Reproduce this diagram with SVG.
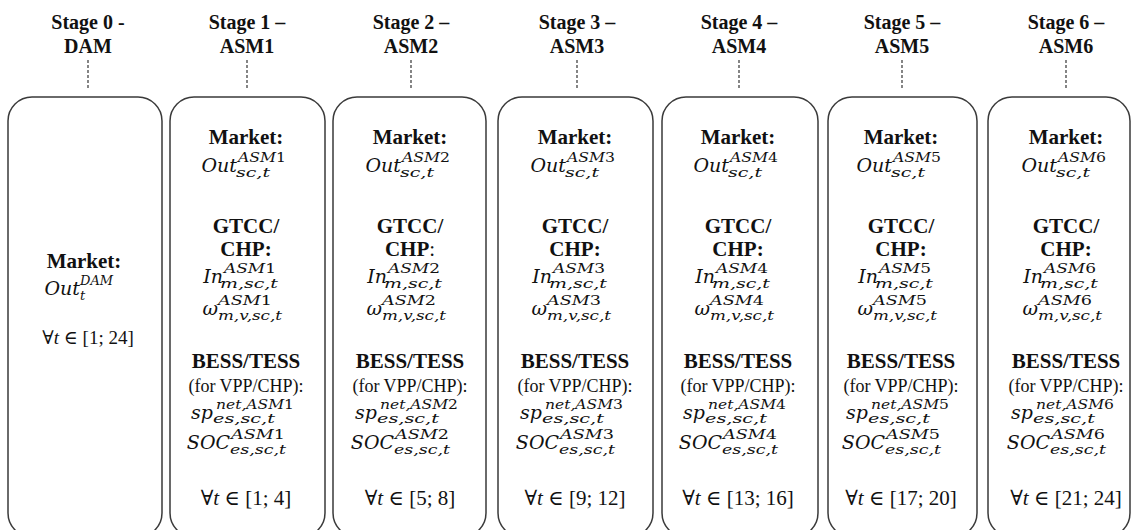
<svg xmlns="http://www.w3.org/2000/svg" width="1132" height="530" viewBox="0 0 1132 530">
<defs>
<style>
.box{fill:#fff;stroke:#3a3a3a;stroke-width:1.5}
.dash{stroke:#444;stroke-width:1.3;stroke-dasharray:3 2;fill:none}
.hdr{font-family:"Liberation Serif","DejaVu Serif",serif;font-weight:bold;font-size:20px;text-anchor:middle;fill:#111}
.sec{font-family:"Liberation Serif","DejaVu Serif",serif;font-weight:bold;font-size:21px;text-anchor:middle;fill:#111}
.note{font-family:"Liberation Serif","DejaVu Serif",serif;font-size:18px;text-anchor:middle;fill:#111}
.fa{font-family:"Liberation Serif","DejaVu Serif",serif;font-size:21px;text-anchor:middle;fill:#111}
.it{font-style:italic}
.rg{font-weight:normal}
.mb{font-family:"DejaVu Serif",serif;font-style:italic;font-size:19px;text-anchor:end;fill:#111}
.ms{font-family:"DejaVu Serif",serif;font-style:italic;font-size:13px;text-anchor:start;fill:#111}
.up{font-style:normal}
</style>
</defs>

<g id="connectors">
<line class="dash" x1="88" y1="60" x2="88" y2="90"/>
<line class="dash" x1="247" y1="60" x2="247" y2="90"/>
<line class="dash" x1="411" y1="60" x2="411" y2="90"/>
<line class="dash" x1="577" y1="60" x2="577" y2="90"/>
<line class="dash" x1="739" y1="60" x2="739" y2="90"/>
<line class="dash" x1="902" y1="60" x2="902" y2="90"/>
<line class="dash" x1="1066" y1="60" x2="1066" y2="90"/>
</g>

<g id="headers">
<text class="hdr" x="88" y="29">Stage 0 -</text><text class="hdr" x="88" y="53">DAM</text>
<text class="hdr" x="247" y="29">Stage 1 –</text><text class="hdr" x="247" y="53">ASM1</text>
<text class="hdr" x="411" y="29">Stage 2 –</text><text class="hdr" x="411" y="53">ASM2</text>
<text class="hdr" x="577" y="29">Stage 3 –</text><text class="hdr" x="577" y="53">ASM3</text>
<text class="hdr" x="739" y="29">Stage 4 –</text><text class="hdr" x="739" y="53">ASM4</text>
<text class="hdr" x="902" y="29">Stage 5 –</text><text class="hdr" x="902" y="53">ASM5</text>
<text class="hdr" x="1066" y="29">Stage 6 –</text><text class="hdr" x="1066" y="53">ASM6</text>
</g>

<g id="stage0">
<rect class="box" x="8" y="97" width="154" height="440" rx="24"/>
<text class="sec" x="84" y="268">Market:</text>
<text class="mb" x="80" y="295">Out</text>
<text class="ms" x="80" y="285" textLength="33" lengthAdjust="spacingAndGlyphs">DAM</text>
<text class="ms" x="80" y="300">t</text>
<text class="fa" x="88" y="344" style="font-size:19px">∀<tspan class="it">t</tspan> ∈ [1; 24]</text>
</g>

<g id="stage1" transform="translate(246,0)">
<rect class="box" x="-76" y="97" width="155" height="440" rx="24"/>
<text class="sec" x="0" y="144">Market:</text>
<text class="mb" x="-9" y="172">Out</text>
<text class="ms" x="-8" y="162" textLength="48" lengthAdjust="spacingAndGlyphs">ASM<tspan class="up">1</tspan></text>
<text class="ms" x="-10" y="177" textLength="34" lengthAdjust="spacingAndGlyphs">sc,t</text>
<text class="sec" x="0" y="233">GTCC/</text>
<text class="sec" x="0" y="256">CHP:</text>
<text class="mb" x="-23" y="283">In</text>
<text class="ms" x="-22" y="273" textLength="52" lengthAdjust="spacingAndGlyphs">ASM<tspan class="up">1</tspan></text>
<text class="ms" x="-26" y="288" textLength="58" lengthAdjust="spacingAndGlyphs">m,sc,t</text>
<text class="mb" x="-28" y="315">ω</text>
<text class="ms" x="-28" y="305" textLength="54" lengthAdjust="spacingAndGlyphs">ASM<tspan class="up">1</tspan></text>
<text class="ms" x="-28" y="320" textLength="64" lengthAdjust="spacingAndGlyphs">m,v,sc,t</text>
<text class="sec" x="0" y="368">BESS/TESS</text>
<text class="note" x="0" y="392">(for VPP/CHP):</text>
<text class="mb" x="-33" y="419">sp</text>
<text class="ms" x="-30" y="409" textLength="78" lengthAdjust="spacingAndGlyphs">net,ASM<tspan class="up">1</tspan></text>
<text class="ms" x="-33" y="423" textLength="62" lengthAdjust="spacingAndGlyphs">es,sc,t</text>
<text class="mb" x="-16" y="449">SOC</text>
<text class="ms" x="-15" y="439" textLength="54" lengthAdjust="spacingAndGlyphs">ASM<tspan class="up">1</tspan></text>
<text class="ms" x="-16" y="454" textLength="56" lengthAdjust="spacingAndGlyphs">es,sc,t</text>
<text class="fa" x="0" y="505">∀<tspan class="it">t</tspan> ∈ [1; 4]</text>
</g>

<g id="stage2" transform="translate(410,0)">
<rect class="box" x="-77" y="97" width="153" height="440" rx="24"/>
<text class="sec" x="0" y="144">Market:</text>
<text class="mb" x="-9" y="172">Out</text>
<text class="ms" x="-8" y="162" textLength="48" lengthAdjust="spacingAndGlyphs">ASM<tspan class="up">2</tspan></text>
<text class="ms" x="-10" y="177" textLength="34" lengthAdjust="spacingAndGlyphs">sc,t</text>
<text class="sec" x="0" y="233">GTCC/</text>
<text class="sec" x="0" y="256">CHP<tspan class="rg">:</tspan></text>
<text class="mb" x="-23" y="283">In</text>
<text class="ms" x="-22" y="273" textLength="52" lengthAdjust="spacingAndGlyphs">ASM<tspan class="up">2</tspan></text>
<text class="ms" x="-26" y="288" textLength="58" lengthAdjust="spacingAndGlyphs">m,sc,t</text>
<text class="mb" x="-28" y="315">ω</text>
<text class="ms" x="-28" y="305" textLength="54" lengthAdjust="spacingAndGlyphs">ASM<tspan class="up">2</tspan></text>
<text class="ms" x="-28" y="320" textLength="64" lengthAdjust="spacingAndGlyphs">m,v,sc,t</text>
<text class="sec" x="0" y="368">BESS/TESS</text>
<text class="note" x="0" y="392">(for VPP/CHP):</text>
<text class="mb" x="-33" y="419">sp</text>
<text class="ms" x="-30" y="409" textLength="78" lengthAdjust="spacingAndGlyphs">net,ASM<tspan class="up">2</tspan></text>
<text class="ms" x="-33" y="423" textLength="62" lengthAdjust="spacingAndGlyphs">es,sc,t</text>
<text class="mb" x="-16" y="449">SOC</text>
<text class="ms" x="-15" y="439" textLength="54" lengthAdjust="spacingAndGlyphs">ASM<tspan class="up">2</tspan></text>
<text class="ms" x="-16" y="454" textLength="56" lengthAdjust="spacingAndGlyphs">es,sc,t</text>
<text class="fa" x="0" y="505">∀<tspan class="it">t</tspan> ∈ [5; 8]</text>
</g>

<g id="stage3" transform="translate(575,0)">
<rect class="box" x="-77" y="97" width="155" height="440" rx="24"/>
<text class="sec" x="0" y="144">Market:</text>
<text class="mb" x="-9" y="172">Out</text>
<text class="ms" x="-8" y="162" textLength="48" lengthAdjust="spacingAndGlyphs">ASM<tspan class="up">3</tspan></text>
<text class="ms" x="-10" y="177" textLength="34" lengthAdjust="spacingAndGlyphs">sc,t</text>
<text class="sec" x="0" y="233">GTCC/</text>
<text class="sec" x="0" y="256">CHP:</text>
<text class="mb" x="-23" y="283">In</text>
<text class="ms" x="-22" y="273" textLength="52" lengthAdjust="spacingAndGlyphs">ASM<tspan class="up">3</tspan></text>
<text class="ms" x="-26" y="288" textLength="58" lengthAdjust="spacingAndGlyphs">m,sc,t</text>
<text class="mb" x="-28" y="315">ω</text>
<text class="ms" x="-28" y="305" textLength="54" lengthAdjust="spacingAndGlyphs">ASM<tspan class="up">3</tspan></text>
<text class="ms" x="-28" y="320" textLength="64" lengthAdjust="spacingAndGlyphs">m,v,sc,t</text>
<text class="sec" x="0" y="368">BESS/TESS</text>
<text class="note" x="0" y="392">(for VPP/CHP):</text>
<text class="mb" x="-33" y="419">sp</text>
<text class="ms" x="-30" y="409" textLength="78" lengthAdjust="spacingAndGlyphs">net,ASM<tspan class="up">3</tspan></text>
<text class="ms" x="-33" y="423" textLength="62" lengthAdjust="spacingAndGlyphs">es,sc,t</text>
<text class="mb" x="-16" y="449">SOC</text>
<text class="ms" x="-15" y="439" textLength="54" lengthAdjust="spacingAndGlyphs">ASM<tspan class="up">3</tspan></text>
<text class="ms" x="-16" y="454" textLength="56" lengthAdjust="spacingAndGlyphs">es,sc,t</text>
<text class="fa" x="0" y="505">∀<tspan class="it">t</tspan> ∈ [9; 12]</text>
</g>

<g id="stage4" transform="translate(738,0)">
<rect class="box" x="-76" y="97" width="156" height="440" rx="24"/>
<text class="sec" x="0" y="144">Market:</text>
<text class="mb" x="-9" y="172">Out</text>
<text class="ms" x="-8" y="162" textLength="48" lengthAdjust="spacingAndGlyphs">ASM<tspan class="up">4</tspan></text>
<text class="ms" x="-10" y="177" textLength="34" lengthAdjust="spacingAndGlyphs">sc,t</text>
<text class="sec" x="0" y="233">GTCC/</text>
<text class="sec" x="0" y="256">CHP:</text>
<text class="mb" x="-23" y="283">In</text>
<text class="ms" x="-22" y="273" textLength="52" lengthAdjust="spacingAndGlyphs">ASM<tspan class="up">4</tspan></text>
<text class="ms" x="-26" y="288" textLength="58" lengthAdjust="spacingAndGlyphs">m,sc,t</text>
<text class="mb" x="-28" y="315">ω</text>
<text class="ms" x="-28" y="305" textLength="54" lengthAdjust="spacingAndGlyphs">ASM<tspan class="up">4</tspan></text>
<text class="ms" x="-28" y="320" textLength="64" lengthAdjust="spacingAndGlyphs">m,v,sc,t</text>
<text class="sec" x="0" y="368">BESS/TESS</text>
<text class="note" x="0" y="392">(for VPP/CHP):</text>
<text class="mb" x="-33" y="419">sp</text>
<text class="ms" x="-30" y="409" textLength="78" lengthAdjust="spacingAndGlyphs">net,ASM<tspan class="up">4</tspan></text>
<text class="ms" x="-33" y="423" textLength="62" lengthAdjust="spacingAndGlyphs">es,sc,t</text>
<text class="mb" x="-16" y="449">SOC</text>
<text class="ms" x="-15" y="439" textLength="54" lengthAdjust="spacingAndGlyphs">ASM<tspan class="up">4</tspan></text>
<text class="ms" x="-16" y="454" textLength="56" lengthAdjust="spacingAndGlyphs">es,sc,t</text>
<text class="fa" x="0" y="505">∀<tspan class="it">t</tspan> ∈ [13; 16]</text>
</g>

<g id="stage5" transform="translate(901,0)">
<rect class="box" x="-73" y="97" width="149" height="440" rx="24"/>
<text class="sec" x="0" y="144">Market:</text>
<text class="mb" x="-9" y="172">Out</text>
<text class="ms" x="-8" y="162" textLength="48" lengthAdjust="spacingAndGlyphs">ASM<tspan class="up">5</tspan></text>
<text class="ms" x="-10" y="177" textLength="34" lengthAdjust="spacingAndGlyphs">sc,t</text>
<text class="sec" x="0" y="233">GTCC/</text>
<text class="sec" x="0" y="256">CHP:</text>
<text class="mb" x="-23" y="283">In</text>
<text class="ms" x="-22" y="273" textLength="52" lengthAdjust="spacingAndGlyphs">ASM<tspan class="up">5</tspan></text>
<text class="ms" x="-26" y="288" textLength="58" lengthAdjust="spacingAndGlyphs">m,sc,t</text>
<text class="mb" x="-28" y="315">ω</text>
<text class="ms" x="-28" y="305" textLength="54" lengthAdjust="spacingAndGlyphs">ASM<tspan class="up">5</tspan></text>
<text class="ms" x="-28" y="320" textLength="64" lengthAdjust="spacingAndGlyphs">m,v,sc,t</text>
<text class="sec" x="0" y="368">BESS/TESS</text>
<text class="note" x="0" y="392">(for VPP/CHP):</text>
<text class="mb" x="-33" y="419">sp</text>
<text class="ms" x="-30" y="409" textLength="78" lengthAdjust="spacingAndGlyphs">net,ASM<tspan class="up">5</tspan></text>
<text class="ms" x="-33" y="423" textLength="62" lengthAdjust="spacingAndGlyphs">es,sc,t</text>
<text class="mb" x="-16" y="449">SOC</text>
<text class="ms" x="-15" y="439" textLength="54" lengthAdjust="spacingAndGlyphs">ASM<tspan class="up">5</tspan></text>
<text class="ms" x="-16" y="454" textLength="56" lengthAdjust="spacingAndGlyphs">es,sc,t</text>
<text class="fa" x="0" y="505">∀<tspan class="it">t</tspan> ∈ [17; 20]</text>
</g>

<g id="stage6" transform="translate(1066,0)">
<rect class="box" x="-78" y="97" width="142" height="440" rx="24"/>
<text class="sec" x="0" y="144">Market:</text>
<text class="mb" x="-9" y="172">Out</text>
<text class="ms" x="-8" y="162" textLength="48" lengthAdjust="spacingAndGlyphs">ASM<tspan class="up">6</tspan></text>
<text class="ms" x="-10" y="177" textLength="34" lengthAdjust="spacingAndGlyphs">sc,t</text>
<text class="sec" x="0" y="233">GTCC/</text>
<text class="sec" x="0" y="256">CHP:</text>
<text class="mb" x="-23" y="283">In</text>
<text class="ms" x="-22" y="273" textLength="52" lengthAdjust="spacingAndGlyphs">ASM<tspan class="up">6</tspan></text>
<text class="ms" x="-26" y="288" textLength="58" lengthAdjust="spacingAndGlyphs">m,sc,t</text>
<text class="mb" x="-28" y="315">ω</text>
<text class="ms" x="-28" y="305" textLength="54" lengthAdjust="spacingAndGlyphs">ASM<tspan class="up">6</tspan></text>
<text class="ms" x="-28" y="320" textLength="64" lengthAdjust="spacingAndGlyphs">m,v,sc,t</text>
<text class="sec" x="0" y="368">BESS/TESS</text>
<text class="note" x="0" y="392">(for VPP/CHP):</text>
<text class="mb" x="-33" y="419">sp</text>
<text class="ms" x="-30" y="409" textLength="78" lengthAdjust="spacingAndGlyphs">net,ASM<tspan class="up">6</tspan></text>
<text class="ms" x="-33" y="423" textLength="62" lengthAdjust="spacingAndGlyphs">es,sc,t</text>
<text class="mb" x="-16" y="449">SOC</text>
<text class="ms" x="-15" y="439" textLength="54" lengthAdjust="spacingAndGlyphs">ASM<tspan class="up">6</tspan></text>
<text class="ms" x="-16" y="454" textLength="56" lengthAdjust="spacingAndGlyphs">es,sc,t</text>
<text class="fa" x="0" y="505">∀<tspan class="it">t</tspan> ∈ [21; 24]</text>
</g>
</svg>
